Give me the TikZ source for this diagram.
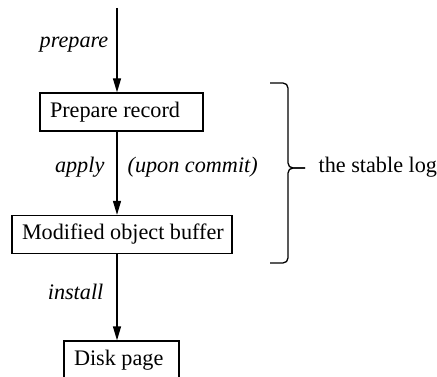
\documentclass[tikz,border=0pt]{standalone}
\usepackage{fontspec}
\setmainfont{Liberation Serif}
\usetikzlibrary{arrows.meta}

\begin{document}
\begin{tikzpicture}[x=1pt,y=-1pt,line width=1.3pt,
  font=\fontsize{22.2}{26}\selectfont,
  box/.style={draw, inner xsep=10pt, inner ysep=0pt, minimum height=38pt},
  lbl/.style={font=\fontsize{22.2}{26}\selectfont\itshape, inner sep=0pt},
  arr/.style={-{Triangle[length=14pt,width=8pt]}}]
\useasboundingbox (0,0) rectangle (437,377);

\coordinate (top) at (117,8);
\node[box] (prep) at (121.5,112) {\makebox[143pt][l]{Prepare record}};
\node[box] (mod) at (122,234.5) {\makebox[200pt][l]{Modified object buffer}};
\node[box] (disk) at (121.5,360) {\makebox[95pt][l]{Disk page}};

\draw[arr] (top) -- (top |- prep.north);
\draw[arr] (top |- prep.south) -- (top |- mod.north);
\draw[arr] (top |- mod.south) -- (top |- disk.north);

\node[lbl, anchor=east] (prepl) at (109,45) {prepare};
\node[lbl, anchor=east] (applyl) at (105,167) {apply};
\node[lbl, anchor=west] (commitl) at (127,167) {(upon commit)};
\node[lbl, anchor=east] (installl) at (104,292) {install};

% brace
\draw[rounded corners=5pt] (270,83) -| (288,168) -- (305,168);
\draw[rounded corners=5pt] (270,263) -| (288,168) -- (305,168);
\node[inner sep=0pt, anchor=west] (logl) at (318,167) {the stable log};
\end{tikzpicture}
\end{document}
